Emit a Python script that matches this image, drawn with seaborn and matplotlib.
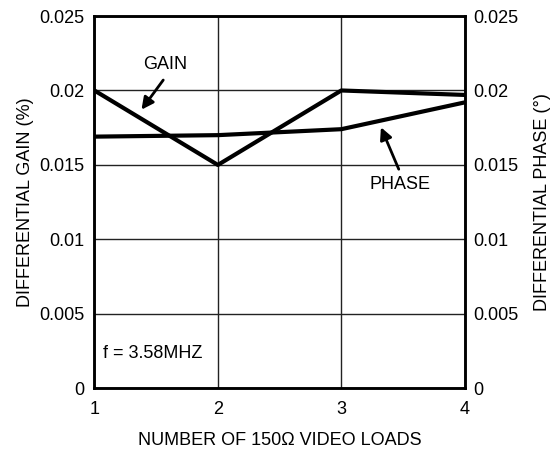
import matplotlib
matplotlib.use("Agg")
import matplotlib.pyplot as plt
import seaborn as sns
import pandas as pd

loads = [1, 2, 3, 4]
gain = [0.0200, 0.0150, 0.0200, 0.0197]
phase = [0.0169, 0.0170, 0.0174, 0.0192]
yticks = [0, 0.005, 0.01, 0.015, 0.02, 0.025]
ytick_labels = ["0", "0.005", "0.01", "0.015", "0.02", "0.025"]

sns.set_theme(style="white")
plt.rcParams['font.family'] = ['Liberation Sans', 'DejaVu Sans']

df = pd.DataFrame({"loads": loads, "gain": gain, "phase": phase})

FS = 13
fig = plt.figure(figsize=(5.52, 4.51), dpi=100)
ax = fig.add_axes([0.171, 0.139, 0.671, 0.8255])

sns.lineplot(data=df, x="loads", y="gain", ax=ax, color="black", linewidth=3.0)
sns.lineplot(data=df, x="loads", y="phase", ax=ax, color="black", linewidth=3.0)

ax.set_xlim(1, 4)
ax.set_ylim(0, 0.025)
ax.set_xticks(loads)
ax.set_yticks(yticks)
ax.set_yticklabels(ytick_labels)
ax.grid(True, color="#222222", linewidth=1.0)
ax.tick_params(axis="y", labelsize=FS, colors="black", length=0, pad=7)
ax.tick_params(axis="x", labelsize=FS, colors="black", length=0, pad=9)
for s in ax.spines.values():
    s.set_color("black")
    s.set_linewidth(1.8)
ax.set_xlabel("NUMBER OF 150Ω VIDEO LOADS", fontsize=FS, color="black", labelpad=10)
ax.set_ylabel("DIFFERENTIAL GAIN (%)", fontsize=FS, color="black", labelpad=4)

ax2 = ax.twinx()
ax2.set_ylim(0, 0.025)
ax2.set_yticks(yticks)
ax2.set_yticklabels(ytick_labels)
ax2.tick_params(labelsize=FS, colors="black", length=0, pad=6)
for s in ax2.spines.values():
    s.set_color("black")
    s.set_linewidth(1.8)
ax2.set_ylabel("DIFFERENTIAL PHASE (°)", fontsize=FS, color="black", labelpad=11)

ax.annotate("", xy=(1.368, 0.01856), xytext=(1.571, 0.02085),
            arrowprops=dict(arrowstyle="-|>", color="black", lw=2.0, mutation_scale=18))
ax.text(1.571, 0.02173, "GAIN", fontsize=FS, ha="center", va="center", color="black")
ax.annotate("", xy=(3.312, 0.0177), xytext=(3.474, 0.01454),
            arrowprops=dict(arrowstyle="-|>", color="black", lw=2.0, mutation_scale=18))
ax.text(3.474, 0.01367, "PHASE", fontsize=FS, ha="center", va="center", color="black")
ax.text(1.07, 0.00237, "f = 3.58MHZ", fontsize=FS, ha="left", va="center", color="black")

fig.savefig("out.png", dpi=100)
